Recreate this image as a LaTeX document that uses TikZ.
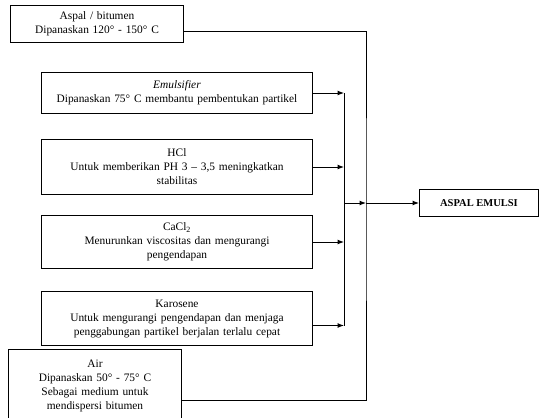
\documentclass[tikz,border=0pt]{standalone}
\usepackage{fontspec}
\setmainfont{Liberation Serif}
\usetikzlibrary{positioning,arrows.meta}

\begin{document}
\begin{tikzpicture}[x=1pt, y=-1pt,
        node distance = 22pt and 32pt,
        box/.style   = {rectangle, draw, line width=1pt, inner sep=2pt,
                        text centered, align=center,
                        font=\fontsize{11.4}{14}\selectfont},
        smallbox/.style = {box, minimum width=173pt, text width=169pt},
        widebox/.style  = {box, minimum width=271pt, text width=267pt},
        arr/.style  = {-{Latex[length=6.5pt,width=5pt]}, line width=1pt},
        wire/.style = {line width=1pt}
    ]
    \useasboundingbox (0,0) rectangle (539,418);
    \clip (0,0) rectangle (539,418);

    % bahan-bahan
    \node[smallbox, minimum height=37pt, anchor=north west] (aspal) at (10,5)
        {Aspal / bitumen\\Dipanaskan 120° - 150° C};
    \node[widebox, minimum height=41pt, anchor=north west] (emul) at (41,72)
        {\textit{Emulsifier}\\Dipanaskan 75° C membantu pembentukan partikel};
    \node[widebox, minimum height=55pt, below=25pt of emul] (hcl)
        {HCl\\Untuk memberikan PH 3 – 3,5 meningkatkan\\stabilitas};
    \node[widebox, minimum height=53pt, below=20pt of hcl] (cacl)
        {CaCl\textsubscript{2}\\Menurunkan viscositas dan mengurangi\\pengendapan};
    \node[widebox, minimum height=54pt, below=22pt of cacl] (karo)
        {Karosene\\Untuk mengurangi pengendapan dan menjaga\\penggabungan partikel berjalan terlalu cepat};
    \node[smallbox, minimum height=72pt, anchor=north west] (air) at (8,349)
        {Air\\Dipanaskan 50° - 75° C\\Sebagai medium untuk\\mendispersi bitumen};

    % hasil
    \node[box, font=\bfseries\fontsize{10.5}{12}\selectfont,
          minimum width=119pt, minimum height=27pt, anchor=west] (hasil) at (419,203)
        {ASPAL EMULSI};

    % titik sambung
    \coordinate (bus)   at (344,203);
    \coordinate (outer) at (366,203);
    \coordinate (a) at ([yshift=-7pt]aspal.east);
    \coordinate (k) at ([yshift=-7pt]karo.east);
    \coordinate (w) at ([yshift=-15pt]air.east);

    \draw[arr] (emul.east) -- (emul.east -| bus);
    \draw[arr] (hcl.east)  -- (hcl.east -| bus);
    \draw[arr] (cacl.east) -- (cacl.east -| bus);
    \draw[arr] (k) -- (k -| bus);
    \draw[wire] (bus |- emul.east) -- (bus |- k);

    \draw[wire] (a) -| (outer) |- (w);
    \draw[arr] (bus) -- (outer);
    \draw[arr] (outer) -- (hasil);
\end{tikzpicture}
\end{document}
